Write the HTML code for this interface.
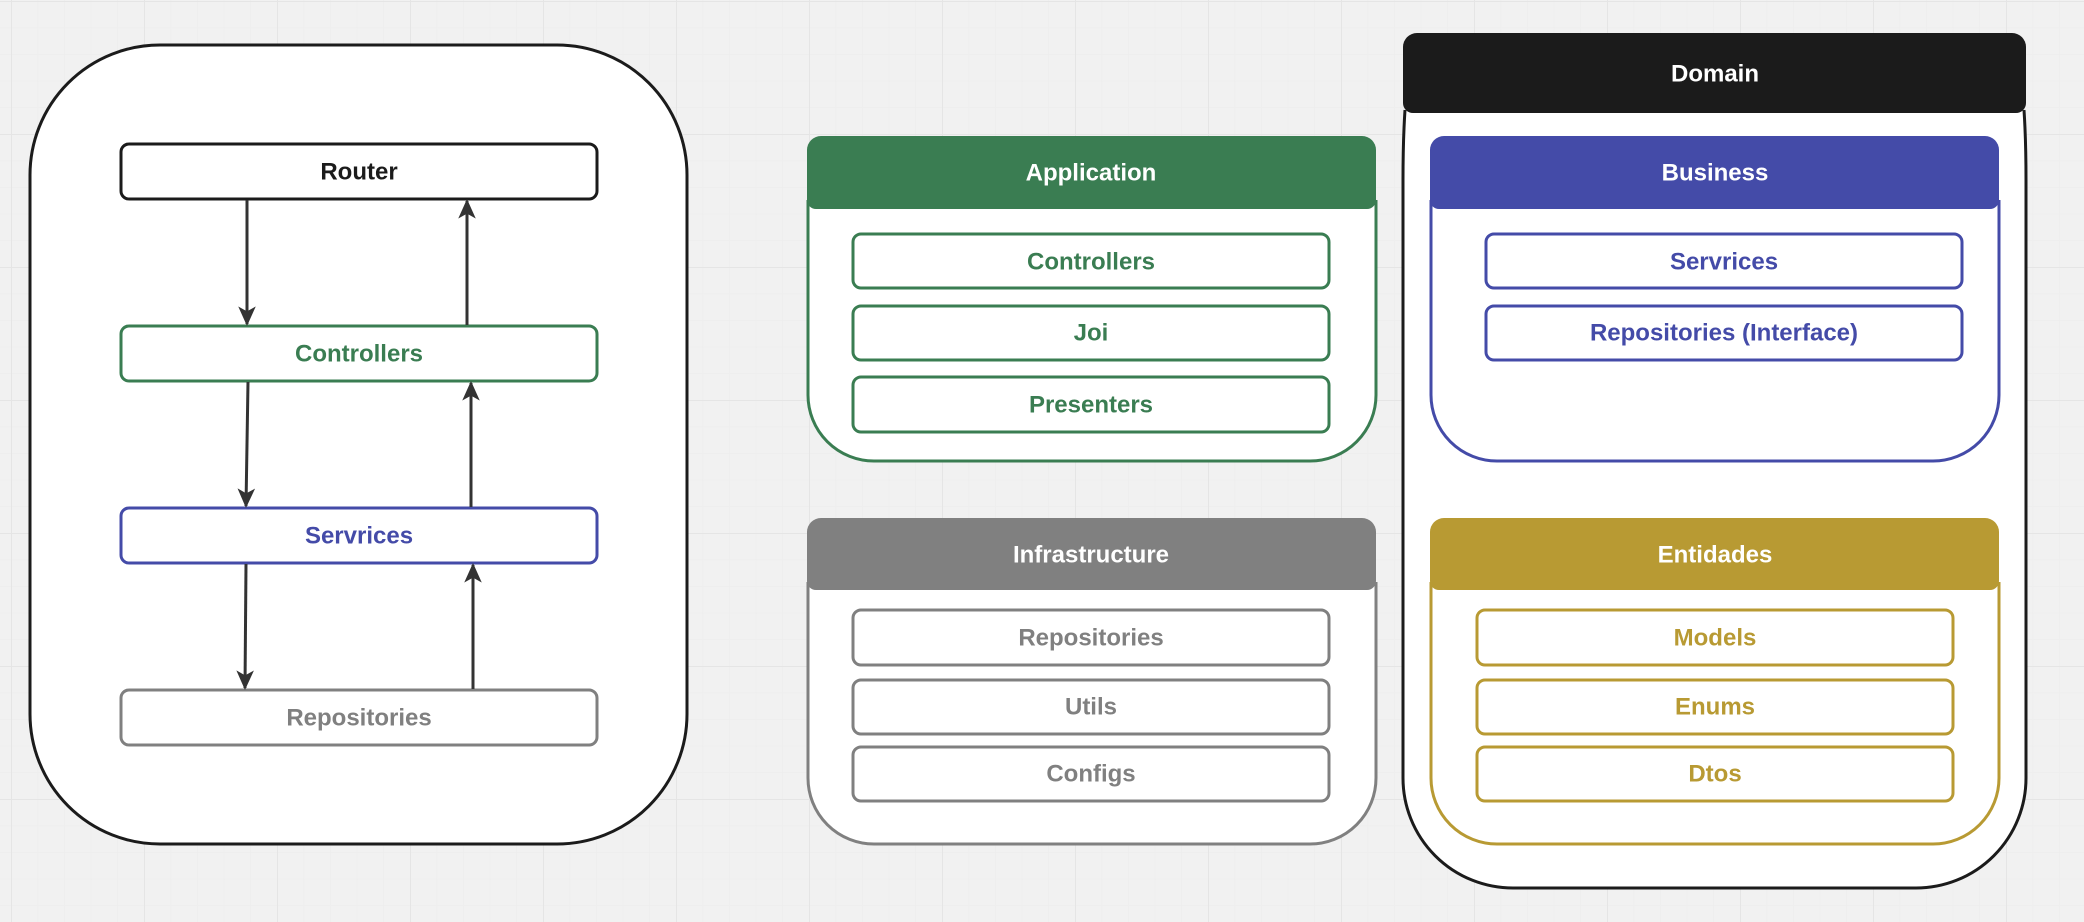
<!DOCTYPE html>
<html><head><meta charset="utf-8"><style>
html,body{margin:0;padding:0;background:#f1f1f1;}
svg{display:block;}
text{font-family:"Liberation Sans",sans-serif;font-weight:bold;font-size:24px;text-anchor:middle;dominant-baseline:central;}
</style></head><body>
<svg width="2084" height="922" viewBox="0 0 2084 922" xmlns="http://www.w3.org/2000/svg">
<defs>
<pattern id="minor" x="11" y="1" width="26.6" height="26.6" patternUnits="userSpaceOnUse">
<path d="M0 0 V26.6 M0 0 H26.6" stroke="#ececec" stroke-width="1" fill="none"/>
</pattern>
<pattern id="major" x="11" y="1" width="133" height="133" patternUnits="userSpaceOnUse">
<path d="M0 0 V133 M0 0 H133" stroke="#e5e5e5" stroke-width="2" fill="none"/>
</pattern>
<marker id="ah" viewBox="0 0 10 10" refX="9" refY="5" markerWidth="6.5" markerHeight="6.5" orient="auto" markerUnits="strokeWidth">
<path d="M0 0.5 L10 5 L0 9.5 L2.5 5 z" fill="#333"/>
</marker>
</defs>
<rect width="2084" height="922" fill="#f1f1f1"/>
<rect width="2084" height="922" fill="url(#minor)"/>
<rect width="2084" height="922" fill="url(#major)"/>

<!-- Left panel -->
<rect x="30" y="45" width="657" height="799" rx="130" fill="#fff" stroke="#1b1b1b" stroke-width="3"/>
<rect x="121" y="144" width="476" height="55" rx="8" fill="#fff" stroke="#1b1b1b" stroke-width="3"/>
<text x="359" y="172" fill="#1b1b1b">Router</text>
<rect x="121" y="326" width="476" height="55" rx="8" fill="#fff" stroke="#3a7d52" stroke-width="3"/>
<text x="359" y="354" fill="#3a7d52">Controllers</text>
<rect x="121" y="508" width="476" height="55" rx="8" fill="#fff" stroke="#444ba8" stroke-width="3"/>
<text x="359" y="536" fill="#444ba8">Servrices</text>
<rect x="121" y="690" width="476" height="55" rx="8" fill="#fff" stroke="#808080" stroke-width="3"/>
<text x="359" y="718" fill="#808080">Repositories</text>

<g stroke="#333" stroke-width="3" fill="none">
<line x1="247" y1="200" x2="247" y2="324" marker-end="url(#ah)"/>
<line x1="467" y1="325" x2="467" y2="201" marker-end="url(#ah)"/>
<line x1="248" y1="382" x2="246" y2="506" marker-end="url(#ah)"/>
<line x1="471" y1="507" x2="471" y2="383" marker-end="url(#ah)"/>
<line x1="246" y1="564" x2="245" y2="688" marker-end="url(#ah)"/>
<line x1="473" y1="689" x2="473" y2="565" marker-end="url(#ah)"/>
</g>

<!-- Application -->
<path d="M808 200 V395 A66 66 0 0 0 874 461 H1310 A66 66 0 0 0 1376 395 V200" fill="#fff" stroke="#3a7d52" stroke-width="3"/>
<path d="M807 150 A14 14 0 0 1 821 136 H1362 A14 14 0 0 1 1376 150 V200 A9 9 0 0 1 1367 209 H816 A9 9 0 0 1 807 200 Z" fill="#3a7d52"/>
<text x="1091" y="173" fill="#fff">Application</text>
<g fill="#fff" stroke="#3a7d52" stroke-width="3">
<rect x="853" y="234" width="476" height="54" rx="8"/>
<rect x="853" y="306" width="476" height="54" rx="8"/>
<rect x="853" y="377" width="476" height="55" rx="8"/>
</g>
<text x="1091" y="262" fill="#3a7d52">Controllers</text>
<text x="1091" y="333" fill="#3a7d52">Joi</text>
<text x="1091" y="405" fill="#3a7d52">Presenters</text>

<!-- Infrastructure -->
<path d="M808 582 V778 A66 66 0 0 0 874 844 H1310 A66 66 0 0 0 1376 778 V582" fill="#fff" stroke="#808080" stroke-width="3"/>
<path d="M807 532 A14 14 0 0 1 821 518 H1362 A14 14 0 0 1 1376 532 V581 A9 9 0 0 1 1367 590 H816 A9 9 0 0 1 807 581 Z" fill="#808080"/>
<text x="1091" y="555" fill="#fff">Infrastructure</text>
<g fill="#fff" stroke="#808080" stroke-width="3">
<rect x="853" y="610" width="476" height="55" rx="8"/>
<rect x="853" y="680" width="476" height="54" rx="8"/>
<rect x="853" y="747" width="476" height="54" rx="8"/>
</g>
<text x="1091" y="638" fill="#808080">Repositories</text>
<text x="1091" y="707" fill="#808080">Utils</text>
<text x="1091" y="774" fill="#808080">Configs</text>

<!-- Domain -->
<path d="M1405 110 Q1403 140 1403 180 V778 A110 110 0 0 0 1513 888 H1916 A110 110 0 0 0 2026 778 V180 Q2026 140 2024 110" fill="#fff" stroke="#1b1b1b" stroke-width="3"/>
<path d="M1403 47 A14 14 0 0 1 1417 33 H2012 A14 14 0 0 1 2026 47 V103 A10 10 0 0 1 2016 113 H1413 A10 10 0 0 1 1403 103 Z" fill="#1b1b1b"/>
<text x="1715" y="74" fill="#fff">Domain</text>

<!-- Business -->
<path d="M1431 200 V395 A66 66 0 0 0 1497 461 H1933 A66 66 0 0 0 1999 395 V200" fill="#fff" stroke="#444ba8" stroke-width="3"/>
<path d="M1430 150 A14 14 0 0 1 1444 136 H1985 A14 14 0 0 1 1999 150 V200 A9 9 0 0 1 1990 209 H1439 A9 9 0 0 1 1430 200 Z" fill="#444ba8"/>
<text x="1715" y="173" fill="#fff">Business</text>
<g fill="#fff" stroke="#444ba8" stroke-width="3">
<rect x="1486" y="234" width="476" height="54" rx="8"/>
<rect x="1486" y="306" width="476" height="54" rx="8"/>
</g>
<text x="1724" y="262" fill="#444ba8">Servrices</text>
<text x="1724" y="333" fill="#444ba8">Repositories (Interface)</text>

<!-- Entidades -->
<path d="M1431 582 V778 A66 66 0 0 0 1497 844 H1933 A66 66 0 0 0 1999 778 V582" fill="#fff" stroke="#b89a33" stroke-width="3"/>
<path d="M1430 532 A14 14 0 0 1 1444 518 H1985 A14 14 0 0 1 1999 532 V581 A9 9 0 0 1 1990 590 H1439 A9 9 0 0 1 1430 581 Z" fill="#b89a33"/>
<text x="1715" y="555" fill="#fff">Entidades</text>
<g fill="#fff" stroke="#b89a33" stroke-width="3">
<rect x="1477" y="610" width="476" height="55" rx="8"/>
<rect x="1477" y="680" width="476" height="54" rx="8"/>
<rect x="1477" y="747" width="476" height="54" rx="8"/>
</g>
<text x="1715" y="638" fill="#b89a33">Models</text>
<text x="1715" y="707" fill="#b89a33">Enums</text>
<text x="1715" y="774" fill="#b89a33">Dtos</text>
</svg>
</body></html>
